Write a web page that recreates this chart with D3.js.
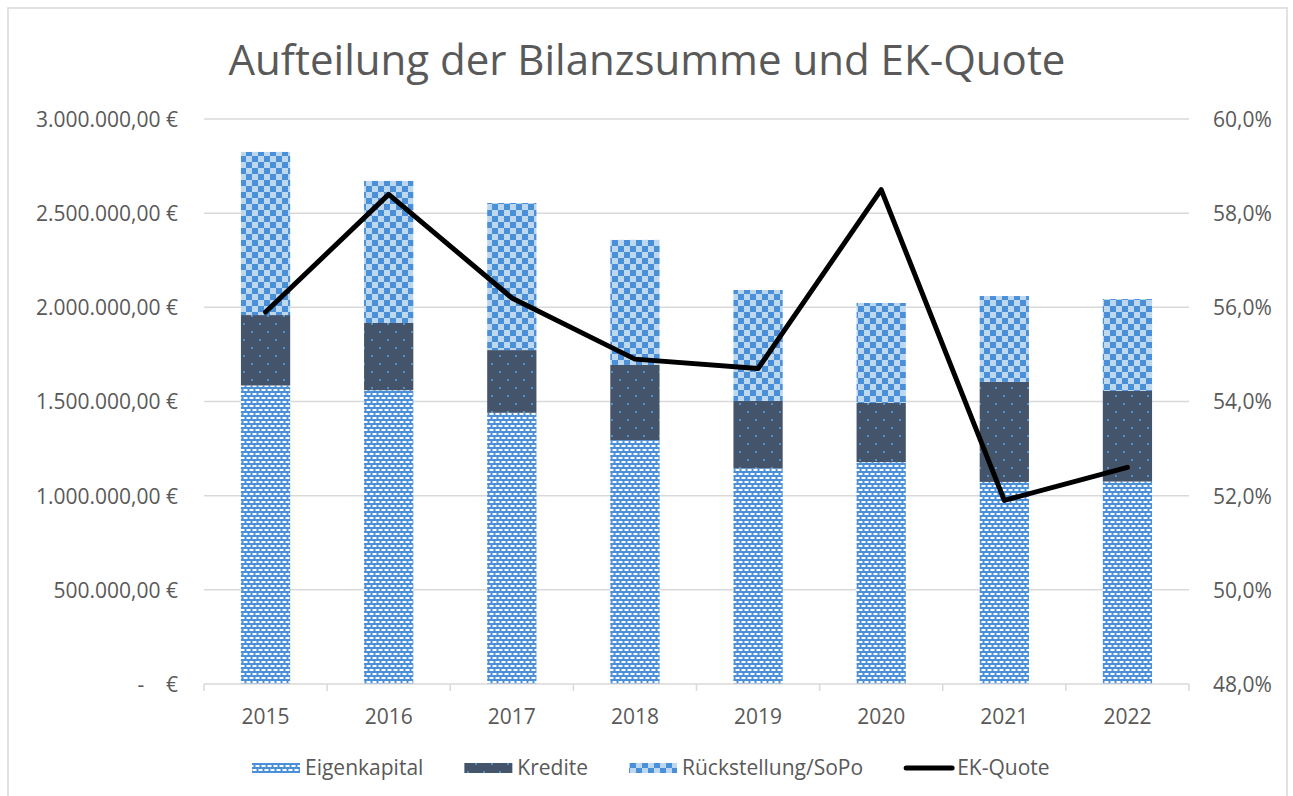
<!DOCTYPE html>
<html><head><meta charset="utf-8">
<script src="https://cdn.jsdelivr.net/npm/d3@7"></script>
<style>
body{margin:0;background:#fff}
svg text{font-family:"Open Sans",sans-serif;fill:#595959}
</style>
</head><body>
<svg id="c" width="1293" height="796"></svg>
<script>
// ---- data ----
const years = ["2015","2016","2017","2018","2019","2020","2021","2022"];
const eigenkapital = [1585000,1560000,1440000,1295000,1145000,1178000,1073000,1075000];
const kredite = [374000,357000,333000,399000,358000,314000,531000,481000];
const rueckstellung = [866000,754000,781000,664000,589000,531000,456000,488000];
const ekQuote = [0.559,0.584,0.562,0.549,0.547,0.585,0.519,0.526];
const leftTicks = [0,500000,1000000,1500000,2000000,2500000,3000000];
const rightTicks = [0.48,0.50,0.52,0.54,0.56,0.58,0.60];
const seriesNames = ["Eigenkapital","Kredite","Rückstellung/SoPo","EK-Quote"];
const titleText = "Aufteilung der Bilanzsumme und EK-Quote";

const svg = d3.select("#c");
const de = d3.formatLocale({decimal:",",thousands:".",grouping:[3],currency:["","€"]});
const fmtL = de.format(",.2f");
const fmtR = de.format(".1%");
const FS = "21px";

// patterns
const defs = svg.append("defs");
const pEK = defs.append("pattern").attr("id","pEK").attr("patternUnits","userSpaceOnUse").attr("width",6).attr("height",8);
pEK.append("rect").attr("width",6).attr("height",8).attr("fill","#4a90d9");
pEK.append("rect").attr("x",0.5).attr("y",1).attr("width",4).attr("height",2).attr("fill","#fff");
pEK.append("rect").attr("x",3.5).attr("y",5).attr("width",4).attr("height",2).attr("fill","#fff");
pEK.append("rect").attr("x",-2.5).attr("y",5).attr("width",4).attr("height",2).attr("fill","#fff");

const pKR = defs.append("pattern").attr("id","pKR").attr("patternUnits","userSpaceOnUse").attr("width",16).attr("height",16);
pKR.append("rect").attr("width",16).attr("height",16).attr("fill","#44546a");
[[4,4],[12,12]].forEach(([cx,cy])=>pKR.append("circle").attr("cx",cx).attr("cy",cy).attr("r",1.1).attr("fill","#5b9bd5"));

const pRS = defs.append("pattern").attr("id","pRS").attr("patternUnits","userSpaceOnUse").attr("width",12).attr("height",12);
pRS.append("rect").attr("width",12).attr("height",12).attr("fill","#bdd7ee");
pRS.append("rect").attr("width",6).attr("height",6).attr("fill","#4a90d9");
pRS.append("rect").attr("x",6).attr("y",6).attr("width",6).attr("height",6).attr("fill","#4a90d9");

// frame
svg.append("rect").attr("x",8).attr("y",8).attr("width",1279).attr("height",820)
  .attr("fill","none").attr("stroke","#d9d9d9").attr("stroke-width",1.5);

// scales
const x = d3.scaleBand().domain(years).range([204,1189]).paddingInner(0.6).paddingOuter(0.3);
const y = d3.scaleLinear().domain([0,3000000]).range([684,119]);
const y2 = d3.scaleLinear().domain([0.48,0.60]).range([684,119]);

// title
svg.append("text").attr("x",647).attr("y",75).attr("text-anchor","middle")
  .style("font-size","42px").text(titleText);

// gridlines
svg.append("g").selectAll("line").data(leftTicks.filter(d=>d>0)).join("line")
  .attr("x1",204).attr("x2",1189).attr("y1",d=>y(d)).attr("y2",d=>y(d))
  .attr("stroke","#d9d9d9").attr("stroke-width",1.5);

// left axis
const gl = svg.append("g").attr("transform","translate(178,0)")
  .call(d3.axisLeft(y).tickValues(leftTicks).tickSize(0).tickPadding(0).tickFormat(d=> d===0 ? "-\u00a0\u00a0\u00a0\u00a0€" : fmtL(d)+"\u00a0€"));
gl.select(".domain").remove();
gl.selectAll("text").style("font-size",FS).attr("fill","#595959").attr("dy","0.35em");

// right axis
const gr = svg.append("g").attr("transform","translate(1213,0)")
  .call(d3.axisRight(y2).tickValues(rightTicks).tickSize(0).tickPadding(0).tickFormat(fmtR));
gr.select(".domain").remove();
gr.selectAll("text").style("font-size",FS).attr("fill","#595959").attr("dy","0.35em");

// stacked bars
const rows = years.map((yr,i)=>({year:yr,ek:eigenkapital[i],kr:kredite[i],rs:rueckstellung[i]}));
const stack = d3.stack().keys(["ek","kr","rs"])(rows);
const fills = {ek:"url(#pEK)",kr:"url(#pKR)",rs:"url(#pRS)"};
svg.append("g").selectAll("g").data(stack).join("g").attr("fill",s=>fills[s.key])
  .selectAll("rect").data(s=>s).join("rect")
  .attr("x",d=>x(d.data.year)).attr("width",x.bandwidth())
  .attr("y",d=>y(d[1])).attr("height",d=>y(d[0])-y(d[1]));

// x axis
const gx = svg.append("g").attr("transform","translate(0,684)");
gx.append("line").attr("x1",204).attr("x2",1189).attr("stroke","#d9d9d9").attr("stroke-width",1.5);
const bounds = d3.range(years.length+1).map(i=>204+i*(985/years.length));
gx.selectAll("line.t").data(bounds).join("line").attr("class","t")
  .attr("x1",d=>d).attr("x2",d=>d).attr("y1",0).attr("y2",7).attr("stroke","#d9d9d9").attr("stroke-width",1.5);
gx.selectAll("text").data(years).join("text")
  .attr("x",d=>x(d)+x.bandwidth()/2).attr("y",33).attr("dy","0.35em").attr("text-anchor","middle")
  .style("font-size",FS).text(d=>d);

// line
const line = d3.line().x((d,i)=>x(years[i])+x.bandwidth()/2).y(d=>y2(d));
svg.append("path").datum(ekQuote).attr("d",line).attr("fill","none")
  .attr("stroke","#000").attr("stroke-width",5).attr("stroke-linejoin","round").attr("stroke-linecap","round");

// legend
const lg = svg.append("g");
let lx = 252;
const ly = 768;
seriesNames.forEach((name,i)=>{
  const sw = 48;
  if(i<3){
    lg.append("rect").attr("x",lx).attr("y",ly-5).attr("width",sw).attr("height",10)
      .attr("fill",["url(#pEK)","url(#pKR)","url(#pRS)"][i]);
  } else {
    lg.append("line").attr("x1",lx+2).attr("x2",lx+sw).attr("y1",ly).attr("y2",ly)
      .attr("stroke","#000").attr("stroke-width",5).attr("stroke-linecap","round");
  }
  const t = lg.append("text").attr("x",lx+sw+5).attr("y",ly).attr("dy","0.35em")
    .style("font-size",FS).text(name);
  lx += sw + 5 + t.node().getComputedTextLength() + 41;
});
</script>
</body></html>
